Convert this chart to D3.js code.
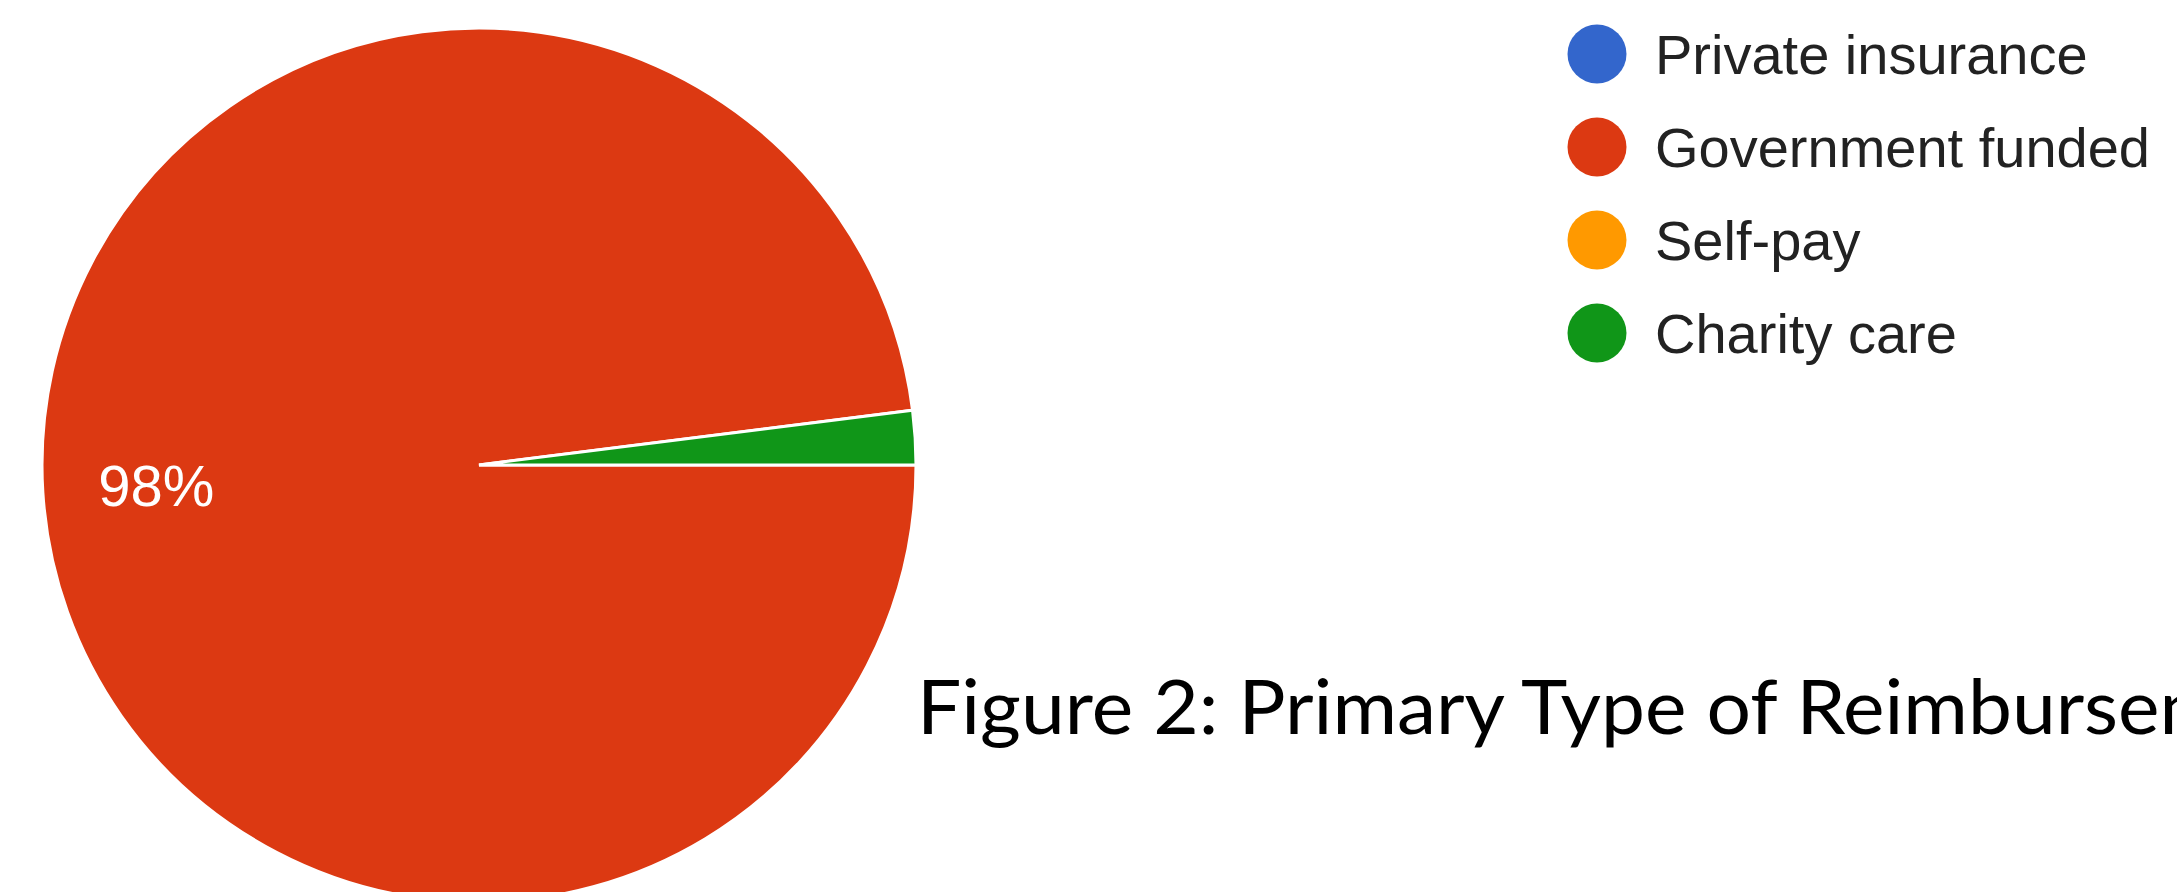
<!DOCTYPE html>
<html>
<head>
<meta charset="utf-8">
<script src="https://cdn.jsdelivr.net/npm/d3@7"></script>
<style>
  html, body { margin: 0; padding: 0; background: #fff; overflow: hidden; }
</style>
</head>
<body>
<figure id="pie" style="margin:0"></figure>
<script>
// chart data
const categories = ["Private insurance", "Government funded", "Self-pay", "Charity care"];
const values = [0, 98, 0, 2];
const palette = ["#3366cc", "#dc3912", "#ff9900", "#109618"];
const caption = "Figure 2: Primary Type of Reimbursement";

const width = 2177;
const height = 892;
const radius = 437;
const cx = 479, cy = 465;

const data = categories.map((c, i) => ({ name: c, value: values[i] }));
const total = d3.sum(values);

const color = d3.scaleOrdinal()
  .domain(categories)
  .range(palette);

const svg = d3.select("figure#pie")
  .append("svg")
  .attr("width", width)
  .attr("height", height);

const g = svg.append("g")
  .attr("transform", "translate(" + cx + "," + cy + ")");

// slices start at 3 o'clock and go clockwise
const pie = d3.pie()
  .sort(null)
  .value(d => d.value)
  .startAngle(Math.PI / 2)
  .endAngle(Math.PI / 2 + 2 * Math.PI);

const arcs = pie(data).filter(d => d.data.value > 0);

const arc = d3.arc().innerRadius(0).outerRadius(radius);

g.selectAll("path.slice")
  .data(arcs)
  .enter()
  .append("path")
  .attr("class", "slice")
  .attr("d", arc)
  .attr("fill", d => color(d.data.name))
  .attr("stroke", "#fff")
  .style("stroke-width", "3px");

// percent labels, small slices get none
const labelArc = d3.arc()
  .innerRadius(radius * 0.74)
  .outerRadius(radius * 0.74);

g.selectAll("text.pct")
  .data(arcs.filter(d => d.data.value / total >= 0.05))
  .enter()
  .append("text")
  .attr("class", "pct")
  .attr("transform", d => "translate(" + labelArc.centroid(d) + ")")
  .attr("text-anchor", "middle")
  .attr("dy", "0.36em")
  .attr("fill", "#fff")
  .style("font-family", "'Liberation Sans', Arial, sans-serif")
  .style("font-size", "58px")
  .text(d => Math.round(d.data.value / total * 100) + "%");

// legend
const legend = svg.append("g")
  .attr("transform", "translate(1597,54)");

const row = legend.selectAll("g.item")
  .data(categories)
  .enter()
  .append("g")
  .attr("class", "item")
  .attr("transform", (d, i) => "translate(0," + i * 93 + ")");

row.append("circle")
  .attr("r", 29.5)
  .attr("fill", d => color(d));

row.append("text")
  .attr("x", 58)
  .attr("dy", "0.36em")
  .attr("fill", "#222")
  .style("font-family", "'Liberation Sans', Arial, sans-serif")
  .style("font-size", "56px")
  .text(d => d);

// caption, runs off the right edge
svg.append("text")
  .attr("x", 917)
  .attr("y", 734)
  .attr("fill", "#000")
  .attr("textLength", 1420)
  .attr("lengthAdjust", "spacingAndGlyphs")
  .style("font-family", "Lato, 'Open Sans', sans-serif")
  .style("font-size", "75px")
  .text(caption);
</script>
</body>
</html>
